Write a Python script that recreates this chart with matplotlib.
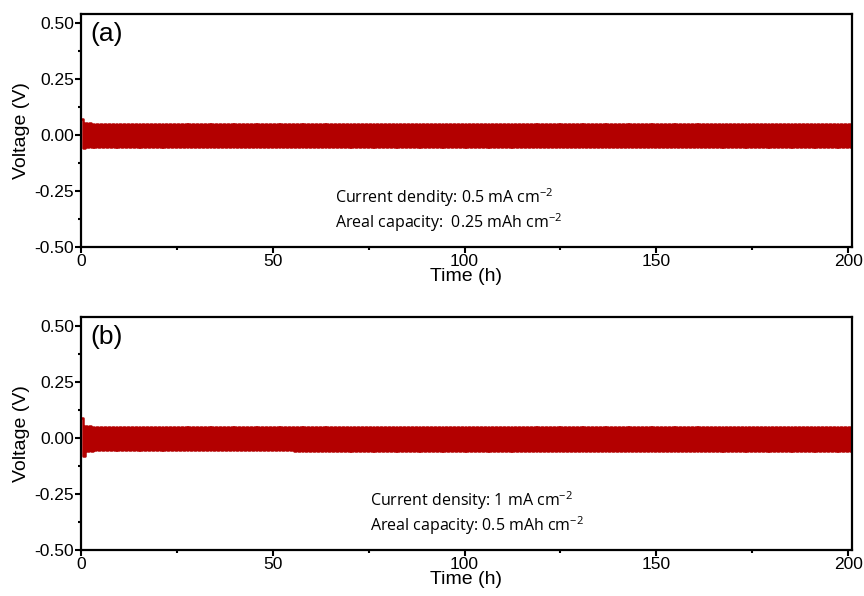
import numpy as np
import matplotlib.pyplot as plt
from matplotlib.ticker import MultipleLocator

plt.rcParams['font.family'] = ['Liberation Sans', 'DejaVu Sans']
plt.rcParams['mathtext.fontset'] = 'custom'
plt.rcParams['mathtext.rm'] = 'Open Sans'

# cycling protocol: half-cycle duration (h) and number of cycles
half_cycle_a = 0.5
half_cycle_b = 0.5
n_cycles = 201

# overpotential envelope (V), stepped at the listed times (h)
env_t_a = [0, 1, 3]
env_up_a = [0.070, 0.055, 0.051]
env_dn_a = [0.060, 0.055, 0.052]

env_t_b = [0, 1, 3, 55]
env_up_b = [0.090, 0.055, 0.048, 0.047]
env_dn_b = [0.080, 0.057, 0.054, 0.056]

label_a = ['Current dendity: 0.5 mA cm$^{-2}$',
           'Areal capacity:  0.25 mAh cm$^{-2}$']
label_b = ['Current density: 1 mA cm$^{-2}$',
           'Areal capacity: 0.5 mAh cm$^{-2}$']


def voltage_profile(half, env_t, env_up, env_dn):
    # square-wave plating/stripping trace, one flat step per half cycle
    t, v = [], []
    for k in range(2 * n_cycles):
        t0, t1 = k * half, (k + 1) * half
        i = np.searchsorted(env_t, t0, side='right') - 1
        val = env_up[i] if k % 2 == 0 else -env_dn[i]
        t += [t0, t1]
        v += [val, val]
    return np.array(t), np.array(v)


fig = plt.figure(figsize=(8.64, 5.96), dpi=100)
ax_a = fig.add_axes([0.0938, 0.5856, 0.8922, 0.3909])
ax_b = fig.add_axes([0.0938, 0.0772, 0.8922, 0.3910])

panels = [
    (ax_a, half_cycle_a, env_t_a, env_up_a, env_dn_a, '(a)', label_a, 0.329),
    (ax_b, half_cycle_b, env_t_b, env_up_b, env_dn_b, '(b)', label_b, 0.375),
]

for ax, half, et, eu, ed, tag, lines, x0 in panels:
    t, v = voltage_profile(half, et, eu, ed)
    ax.plot(t, v, color='#b30000', lw=1.8)
    ax.set_xlim(0, 201)
    ax.set_ylim(-0.5, 0.54)
    ax.xaxis.set_major_locator(MultipleLocator(50))
    ax.xaxis.set_minor_locator(MultipleLocator(25))
    ax.yaxis.set_major_locator(MultipleLocator(0.25))
    ax.yaxis.set_minor_locator(MultipleLocator(0.125))
    ax.yaxis.set_major_formatter(plt.FormatStrFormatter('%.2f'))
    ax.tick_params(which='major', direction='out', length=4, width=1.5,
                   labelsize=12.5, pad=1)
    ax.tick_params(which='minor', direction='out', length=2.5, width=1.5)
    for s in ax.spines.values():
        s.set_linewidth(1.6)
    ax.set_xlabel('Time (h)', fontsize=14, labelpad=-0.5)
    ax.set_ylabel('Voltage (V)', fontsize=14, labelpad=3)
    ax.text(0.012, 0.965, tag, transform=ax.transAxes, fontsize=19,
            va='top', ha='left')
    ax.text(x0, 0.21, lines[0], transform=ax.transAxes,
            fontsize=11.5, family='Open Sans', va='center')
    ax.text(x0, 0.105, lines[1], transform=ax.transAxes,
            fontsize=11.5, family='Open Sans', va='center')

fig.savefig('out.png', dpi=100)
